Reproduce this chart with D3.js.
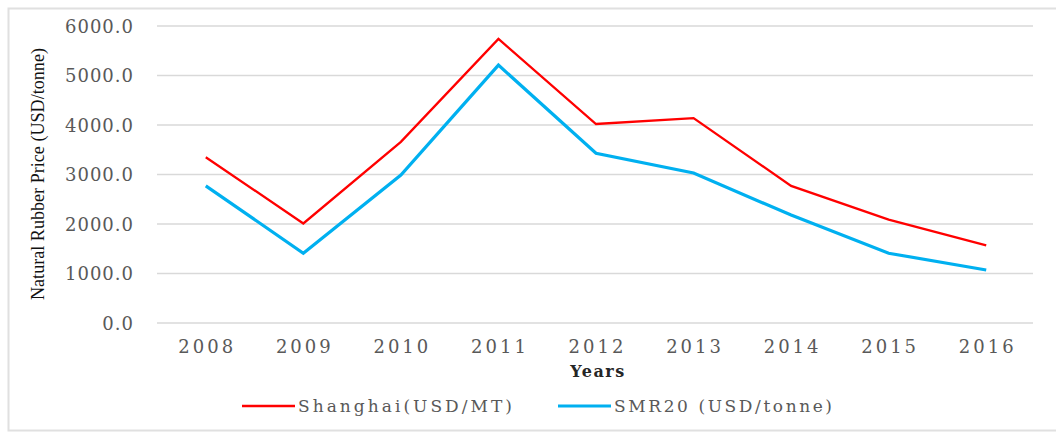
<!doctype html>
<html>
<head>
  <style>
    body { margin: 0; background: #fff; }
    svg { display: block; }
  </style>
  <script src="https://cdn.jsdelivr.net/npm/d3@7"></script>
</head>
<body>
  <script>
  var years = ["2008", "2009", "2010", "2011", "2012", "2013", "2014", "2015", "2016"];
  var shanghai = [3350, 2010, 3660, 5740, 4020, 4140, 2770, 2090, 1570];
  var smr20 = [2770, 1410, 2990, 5210, 3430, 3030, 2180, 1410, 1070];
  var yTicks = [0, 1000, 2000, 3000, 4000, 5000, 6000];

  var svgW = 1056, svgH = 438;
  var svg = d3.select("body").append("svg")
    .attr("width", svgW)
    .attr("height", svgH);

  // outer frame
  svg.append("rect")
    .attr("x", 8.5).attr("y", 8.5)
    .attr("width", 1060).attr("height", 422)
    .attr("fill", "none")
    .attr("stroke", "#e0e0e0")
    .attr("stroke-width", 2);

  var x = d3.scaleBand().domain(years).range([157, 1035]);
  var y = d3.scaleLinear().domain([0, 6000]).range([323, 26]);

  // gridlines
  svg.selectAll("line.grid")
    .data(yTicks)
    .enter().append("line")
    .attr("class", "grid")
    .attr("x1", 157).attr("x2", 1033)
    .attr("y1", function(d) { return y(d); })
    .attr("y2", function(d) { return y(d); })
    .attr("stroke", "#d9d9d9")
    .attr("stroke-width", 1.5);

  var tickFont = "DejaVu Serif";

  // y tick labels
  svg.selectAll("text.ytick")
    .data(yTicks)
    .enter().append("text")
    .attr("class", "ytick")
    .attr("x", 134)
    .attr("y", function(d) { return y(d) + 6.5; })
    .attr("text-anchor", "end")
    .attr("font-family", tickFont)
    .attr("font-size", "18px")
    .attr("letter-spacing", "1px")
    .attr("fill", "#595959")
    .text(function(d) { return d3.format(".1f")(d); });

  // x tick labels
  svg.selectAll("text.xtick")
    .data(years)
    .enter().append("text")
    .attr("class", "xtick")
    .attr("x", function(d) { return x(d) + x.bandwidth() / 2 + 1.5; })
    .attr("y", 353)
    .attr("text-anchor", "middle")
    .attr("font-family", tickFont)
    .attr("font-size", "18px")
    .attr("letter-spacing", "3px")
    .attr("fill", "#595959")
    .text(function(d) { return d; });

  // axis titles
  svg.append("text")
    .attr("x", 598).attr("y", 377)
    .attr("text-anchor", "middle")
    .attr("font-family", tickFont)
    .attr("font-size", "16px")
    .attr("font-weight", "bold")
    .attr("letter-spacing", "1.5px")
    .attr("fill", "#262626")
    .text("Years");

  svg.append("text")
    .attr("transform", "translate(44,174) rotate(-90)")
    .attr("text-anchor", "middle")
    .attr("font-family", "Liberation Serif")
    .attr("font-size", "19px")
    .attr("textLength", 252)
    .attr("lengthAdjust", "spacingAndGlyphs")
    .attr("fill", "#111")
    .text("Natural Rubber Price  (USD/tonne)");

  // lines
  var line = d3.line()
    .x(function(d, i) { return x(years[i]) + x.bandwidth() / 2; })
    .y(function(d) { return y(d); });

  svg.append("path")
    .datum(smr20)
    .attr("d", line)
    .attr("fill", "none")
    .attr("stroke", "#00b0f0")
    .attr("stroke-width", 3.2);

  svg.append("path")
    .datum(shanghai)
    .attr("d", line)
    .attr("fill", "none")
    .attr("stroke", "#ff0000")
    .attr("stroke-width", 2.3);

  // legend
  var legend = [
    { name: "Shanghai(USD/MT)", color: "#ff0000", w: 2.3, x: 242, len: 214 },
    { name: "SMR20 (USD/tonne)", color: "#00b0f0", w: 3.2, x: 558, len: 218 }
  ];
  var lg = svg.selectAll("g.legend")
    .data(legend)
    .enter().append("g")
    .attr("class", "legend")
    .attr("transform", function(d) { return "translate(" + d.x + ",406)"; });
  lg.append("line")
    .attr("x1", 0).attr("x2", 53)
    .attr("stroke", function(d) { return d.color; })
    .attr("stroke-width", function(d) { return d.w; });
  lg.append("text")
    .attr("x", 56).attr("y", 6)
    .attr("font-family", tickFont)
    .attr("font-size", "17px")
    .attr("textLength", function(d) { return d.len; })
    .attr("lengthAdjust", "spacing")
    .attr("fill", "#595959")
    .text(function(d) { return d.name; });
  </script>
</body>
</html>
